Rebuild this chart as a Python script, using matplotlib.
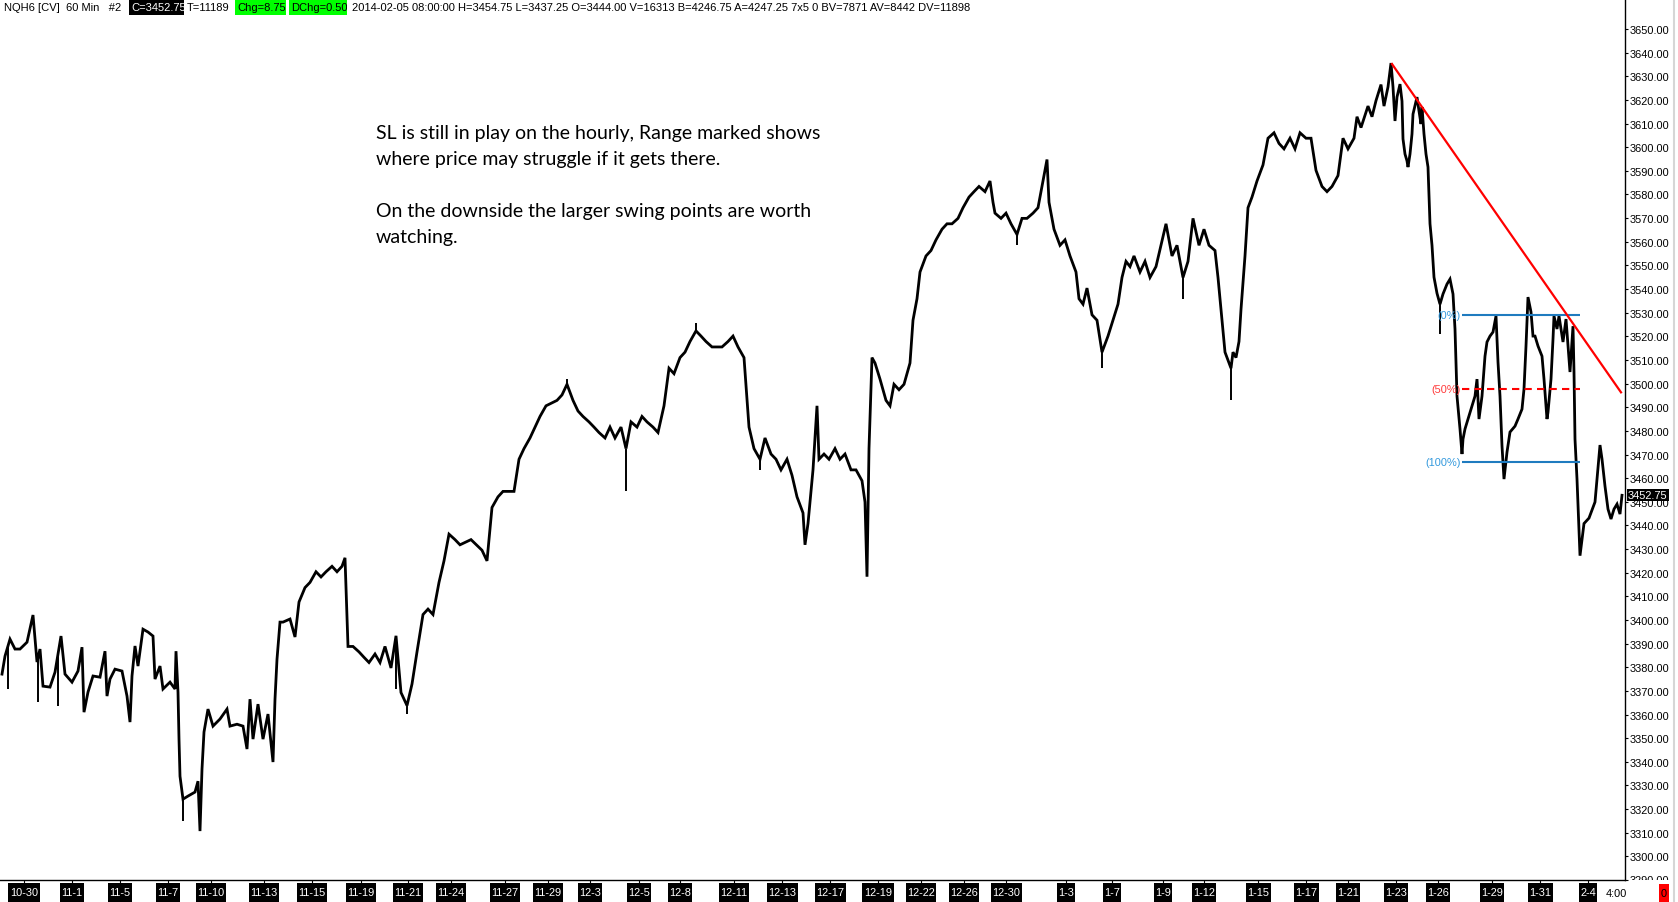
import numpy as np
import matplotlib
matplotlib.use("Agg")
import matplotlib.pyplot as plt
from matplotlib import font_manager
from matplotlib.patches import Rectangle
from matplotlib.lines import Line2D
from matplotlib.transforms import Bbox, blended_transform_factory

_names = {f.name for f in font_manager.fontManager.ttflist}
if "Liberation Sans Narrow" in _names:
    UI_FONT, UI_SCALE = "Liberation Sans Narrow", 1.0
else:
    UI_FONT, UI_SCALE = "Liberation Sans", 0.84
plt.rcParams['font.family'] = [UI_FONT, 'DejaVu Sans']

# ---------------- data ----------------
# hourly bar index (about one bar per position) and traced price path
bar_idx = [2, 5, 10, 15, 20, 27, 33, 37, 40, 43, 50, 55, 61, 65, 72, 78, 82, 84, 88, 93, 100, 105, 107, 110, 115, 122,
           127, 130, 132, 135, 138, 143, 148, 153, 155, 160, 163, 170, 175, 176, 178, 179, 180, 183, 188, 195, 198, 200,
           202, 204, 208, 213, 220, 227, 230, 237, 243, 247, 250, 253, 258, 263, 268, 273, 275, 277, 280, 283, 290, 295,
           299, 305, 310, 316, 321, 326, 332, 337, 342, 345, 348, 353, 359, 364, 369, 375, 380, 385, 391, 396, 401, 407,
           412, 417, 423, 428, 433, 439, 444, 449, 455, 460, 471, 482, 487, 492, 498, 503, 514, 519, 524, 530, 535, 540,
           546, 557, 562, 567, 573, 578, 583, 589, 594, 599, 605, 610, 615, 621, 626, 631, 637, 642, 647, 653, 658, 664,
           669, 674, 680, 685, 690, 696, 701, 706, 712, 717, 722, 728, 733, 738, 744, 749, 754, 760, 765, 771, 776, 781,
           787, 792, 797, 803, 805, 808, 813, 817, 819, 824, 829, 835, 840, 845, 851, 856, 862, 865, 867, 869, 872, 875,
           880, 886, 890, 894, 899, 904, 910, 913, 917, 920, 926, 931, 936, 942, 947, 952, 958, 963, 969, 974, 979, 985,
           990, 993, 995, 1001, 1006, 1011, 1017, 1022, 1027, 1033, 1038, 1043, 1047, 1049, 1054, 1060, 1065, 1070, 1076,
           1079, 1083, 1087, 1092, 1097, 1102, 1108, 1113, 1118, 1122, 1126, 1130, 1134, 1140, 1145, 1150, 1156, 1161,
           1166, 1172, 1177, 1183, 1188, 1193, 1199, 1204, 1209, 1215, 1218, 1222, 1225, 1229, 1231, 1233, 1236, 1239,
           1241, 1245, 1248, 1252, 1257, 1263, 1268, 1274, 1279, 1284, 1290, 1295, 1300, 1306, 1311, 1316, 1322, 1327,
           1332, 1338, 1343, 1348, 1354, 1357, 1361, 1368, 1372, 1376, 1381, 1384, 1388, 1391, 1393, 1395, 1397, 1400,
           1402, 1403, 1405, 1407, 1408, 1410, 1412, 1413, 1417, 1419, 1421, 1422, 1424, 1426, 1428, 1430, 1432, 1434,
           1437, 1440, 1443, 1447, 1450, 1453, 1455, 1457, 1460, 1462, 1463, 1465, 1468, 1472, 1475, 1477, 1479, 1482,
           1485, 1487, 1490, 1493, 1496, 1498, 1500, 1502, 1504, 1507, 1510, 1515, 1518, 1522, 1524, 1526, 1528, 1531,
           1533, 1535, 1538, 1542, 1544, 1547, 1548, 1551, 1553, 1554, 1557, 1559, 1563, 1566, 1568, 1570, 1573, 1574,
           1575, 1577, 1580, 1584, 1589, 1595, 1600, 1602, 1605, 1608, 1611, 1614, 1617, 1620, 1622]
price = [3377.1, 3384.7, 3391.9, 3387.7, 3387.7, 3390.6, 3402.1, 3382.2, 3387.7, 3372.0, 3371.6, 3377.9, 3393.2,
         3377.1, 3373.7, 3378.4, 3388.5, 3361.0, 3369.5, 3376.3, 3375.8, 3386.8, 3367.8, 3375.0, 3379.2, 3378.4,
         3367.8, 3356.8, 3376.3, 3389.0, 3380.5, 3396.1, 3394.9, 3393.2, 3375.0, 3380.5, 3370.8, 3373.7, 3370.8,
         3386.8, 3369.5, 3349.6, 3333.9, 3324.2, 3325.5, 3327.2, 3331.8, 3310.7, 3336.9, 3352.6, 3362.3, 3355.1,
         3358.1, 3362.3, 3355.1, 3355.9, 3355.1, 3345.4, 3366.5, 3349.6, 3364.4, 3349.6, 3360.2, 3339.9, 3366.5,
         3383.4, 3399.1, 3399.1, 3400.4, 3392.8, 3407.6, 3413.7, 3415.9, 3420.4, 3418.2, 3420.4, 3422.7, 3420.4,
         3422.7, 3426.3, 3388.8, 3388.8, 3386.5, 3384.2, 3382.0, 3385.6, 3382.0, 3388.8, 3379.7, 3393.3, 3369.3,
         3363.8, 3372.9, 3386.5, 3402.3, 3404.6, 3402.3, 3415.9, 3425.0, 3436.3, 3434.0, 3431.8, 3434.0, 3429.5,
         3425.0, 3447.6, 3452.1, 3454.4, 3454.4, 3468.0, 3472.5, 3477.0, 3481.6, 3486.1, 3490.6, 3492.9, 3495.2,
         3499.7, 3492.9, 3488.4, 3486.1, 3483.8, 3481.6, 3479.3, 3477.0, 3481.6, 3477.0, 3481.6, 3472.5, 3483.8,
         3481.6, 3486.1, 3483.8, 3481.6, 3479.3, 3490.6, 3506.5, 3504.2, 3511.0, 3513.3, 3517.8, 3522.3, 3520.1,
         3517.8, 3515.5, 3515.5, 3515.5, 3517.8, 3520.1, 3515.5, 3511.0, 3481.6, 3472.5, 3468.0, 3477.0, 3470.2,
         3468.0, 3463.5, 3468.0, 3461.2, 3452.1, 3445.3, 3431.8, 3440.8, 3463.5, 3490.6, 3468.0, 3470.2, 3468.0,
         3472.5, 3468.0, 3470.2, 3463.5, 3463.5, 3458.9, 3449.9, 3418.3, 3472.5, 3511.0, 3508.7, 3501.9, 3492.9,
         3490.6, 3499.7, 3497.4, 3499.7, 3508.7, 3526.8, 3535.9, 3547.2, 3554.0, 3556.3, 3560.8, 3565.3, 3567.6,
         3567.6, 3569.9, 3574.4, 3578.9, 3581.2, 3583.4, 3581.2, 3585.7, 3576.7, 3572.1, 3569.9, 3572.1, 3567.6,
         3563.1, 3569.9, 3569.9, 3572.1, 3574.4, 3585.7, 3594.8, 3576.7, 3565.3, 3558.5, 3560.8, 3554.0, 3547.2,
         3535.9, 3533.6, 3540.4, 3529.1, 3526.8, 3513.3, 3520.1, 3526.8, 3533.6, 3544.9, 3551.7, 3549.5, 3554.0,
         3547.2, 3551.7, 3544.9, 3549.5, 3558.5, 3567.6, 3554.0, 3558.5, 3544.9, 3551.7, 3569.9, 3558.5, 3565.3,
         3558.5, 3556.3, 3544.9, 3526.8, 3513.3, 3508.7, 3506.5, 3513.3, 3511.0, 3517.8, 3531.4, 3554.0, 3574.4,
         3578.9, 3585.7, 3592.5, 3603.8, 3606.1, 3601.6, 3599.3, 3603.8, 3599.3, 3606.1, 3603.8, 3603.8, 3590.2,
         3583.4, 3581.2, 3583.4, 3588.0, 3603.8, 3599.3, 3603.8, 3612.9, 3608.3, 3617.4, 3612.9, 3619.7, 3626.5,
         3617.4, 3625.5, 3635.6, 3625.5, 3611.1, 3621.2, 3626.7, 3619.5, 3603.5, 3597.1, 3594.2, 3591.6, 3597.1,
         3605.6, 3614.0, 3621.2, 3615.3, 3609.8, 3617.0, 3605.6, 3597.1, 3591.6, 3567.6, 3558.5, 3545.0, 3538.2,
         3533.6, 3537.9, 3542.1, 3544.2, 3537.9, 3523.1, 3494.7, 3480.8, 3470.2, 3476.5, 3480.8, 3485.0, 3490.5,
         3494.7, 3501.9, 3485.0, 3494.7, 3511.6, 3517.6, 3520.1, 3521.8, 3528.6, 3509.1, 3494.7, 3473.6, 3459.6,
         3471.0, 3479.5, 3482.0, 3485.0, 3489.2, 3497.7, 3515.9, 3536.6, 3530.3, 3520.1, 3520.1, 3515.9, 3511.6,
         3501.9, 3485.0, 3487.9, 3501.9, 3518.8, 3528.6, 3523.1, 3528.6, 3517.6, 3527.3, 3515.9, 3504.9, 3524.3,
         3504.9, 3476.5, 3459.6, 3427.2, 3440.8, 3443.1, 3449.9, 3474.0, 3468.1, 3456.6, 3446.9, 3442.7, 3446.9,
         3449.0, 3444.8, 3452.75]

# single-bar spikes (bar, extreme price)
wick_bar = [8, 38, 58, 183, 396, 407, 567, 626, 696, 760, 1017, 1102, 1183, 1231, 1440]
wick_extreme = [3370.8, 3365.2, 3363.6, 3314.9, 3370.6, 3360.2, 3502.0, 3454.4, 3525.5, 3463.5,
                3558.5, 3506.5, 3535.9, 3492.9, 3521.0]

date_pos = [24, 72, 120, 168, 211, 264, 312, 361, 408, 451, 505, 548, 590, 639, 680, 734, 782, 830, 878,
            921, 964, 1006, 1066, 1112, 1163, 1204, 1258, 1306, 1348, 1396, 1438, 1492, 1540, 1588]
date_labels = ["10-30", "11-1", "11-5", "11-7", "11-10", "11-13", "11-15", "11-19", "11-21", "11-24",
               "11-27", "11-29", "12-3", "12-5", "12-8", "12-11", "12-13", "12-17", "12-19", "12-22",
               "12-26", "12-30", "1-3", "1-7", "1-9", "1-12", "1-15", "1-17", "1-21", "1-23", "1-26",
               "1-29", "1-31", "2-4"]
time_label_pos = 1616
time_label = "4:00"

ytick_vals = list(range(3290, 3651, 10))
y_range = (3290.0, 3662.7)
bar_range = (0, 1625)

fib_bars = (1462, 1580)
fib_levels = [3529.1, 3497.9, 3466.7]
fib_names = ["(0%)", "(50%)", "(100%)"]
trend_bars = [1392, 1621]
trend_prices = [3635.2, 3496.3]
last_price = 3452.75

header_main = ("2014-02-05 08:00:00 H=3454.75 L=3437.25 O=3444.00 V=16313 B=4246.75 "
               "A=4247.25 7x5 0 BV=7871 AV=8442 DV=11898")
header_parts = [  # (text, left px, box colour, box left, box right, text colour)
    ("NQH6 [CV]  60 Min   #2", 4, None, 0, 0, "black"),
    ("C=3452.75", 131, "black", 129, 184, "white"),
    ("T=11189", 187, None, 0, 0, "black"),
    ("Chg=8.75", 237, "#00ff00", 235, 286, "black"),
    ("DChg=0.50", 291, "#00ff00", 289, 347, "black"),
    (header_main, 352, None, 0, 0, "black"),
]
note_lines = ["SL is still in play on the hourly, Range marked shows",
              "where price may struggle if it gets there.",
              "On the downside the larger swing points are worth",
              "watching."]
note_y_px = [134, 160, 212, 238]

# ---------------- figure ----------------
W, H = 1678, 903
fig = plt.figure(figsize=(W / 100, H / 100), dpi=100)
fig.patch.set_facecolor("white")
ax_bottom_px = 881
ax_right_px = 1625
ax = fig.add_axes([0, (H - ax_bottom_px) / H, ax_right_px / W, ax_bottom_px / H])
ax.set_xlim(*bar_range)
ax.set_ylim(*y_range)

ax.plot(bar_idx, price, color="black", lw=2.0, solid_joinstyle="miter", zorder=3)
base = np.interp(wick_bar, bar_idx, price)
ax.vlines(wick_bar, np.minimum(base, wick_extreme), np.maximum(base, wick_extreme),
          color="black", lw=1.4, zorder=3)

# fibonacci range
fib_colors = ["#1f7bbf", "#ff0000", "#1f7bbf"]
fib_text_colors = ["#3399dd", "#ff3b3b", "#3399dd"]
for lvl, name, c, tc in zip(fib_levels, fib_names, fib_colors, fib_text_colors):
    ls = (0, (3.5, 2.5)) if name == "(50%)" else "-"
    ax.hlines(lvl, fib_bars[0], fib_bars[1], color=c, lw=1.5, linestyles=[ls], zorder=4)
    ax.text(fib_bars[0] - 1.5, lvl, name, ha="right", va="center", color=tc,
            fontsize=9.4 * UI_SCALE, zorder=5)

ax.plot(trend_bars, trend_prices, color="red", lw=1.6, zorder=5)

for s in ["top", "left"]:
    ax.spines[s].set_visible(False)
for s in ["right", "bottom"]:
    ax.spines[s].set_color("black")
    ax.spines[s].set_linewidth(1.0)

TICK_FS = 9.4 * UI_SCALE
ax.yaxis.tick_right()
ax.set_yticks(ytick_vals)
ax.set_yticklabels(["" if v == 3290 else f"{v:.2f}" for v in ytick_vals])
ax.tick_params(axis="y", direction="out", length=2.2, width=0.8, pad=1, labelsize=TICK_FS, colors="black")

ax.set_xticks(date_pos)
ax.set_xticklabels(date_labels)
ax.tick_params(axis="x", direction="out", length=2.2, width=0.8, pad=2.6, labelsize=TICK_FS,
               color="black", labelcolor="white")

trans_xa = blended_transform_factory(ax.transData, ax.transAxes)
ax.text(time_label_pos, -(894 - ax_bottom_px) / ax_bottom_px, time_label, transform=trans_xa,
        ha="center", va="center", fontsize=TICK_FS, color="black", clip_on=False)

trans_yr = blended_transform_factory(ax.transAxes, ax.transData)
ax.text(1 + 3 / ax_right_px, last_price, f"{last_price:.2f}", transform=trans_yr, ha="left", va="center",
        color="white", fontsize=TICK_FS, zorder=20, clip_on=False,
        bbox=dict(boxstyle="square,pad=0.08", fc="black", ec="none"))
t3290 = ax.text(1 + 4.4 / ax_right_px, 3290, "3290.00", transform=trans_yr, ha="left", va="center",
                fontsize=TICK_FS, color="black")
t3290.set_clip_box(Bbox([[1620, H - ax_bottom_px], [W, H]]))
t3290.set_clip_on(True)

# red box bottom right
fig.add_artist(Rectangle((1659 / W, 0), 10 / W, 18 / H, transform=fig.transFigure,
                         fc="red", ec="none", zorder=5))
fig.text(1664 / W, 9 / H, "0", ha="center", va="center", fontsize=TICK_FS, color="black", zorder=6)
# grey divider
fig.add_artist(Line2D([1674 / W, 1674 / W], [0, 1], transform=fig.transFigure, color="#d6d6d6", lw=1.5))

renderer = fig.canvas.get_renderer()

# header
hdr_texts = []
for txt, x0, bc, b0, b1, tc in header_parts:
    if bc is not None:
        fig.add_artist(Rectangle((b0 / W, 1 - 16 / H), (b1 - b0) / W, 16 / H, transform=fig.transFigure,
                                 fc=bc, ec="none", zorder=5))
    t = fig.text(x0 / W, 1 - 8 / H, txt, ha="left", va="center", fontsize=9, color=tc, zorder=6)
    if bc is not None:
        t.set_clip_box(Bbox([[b0, H - 16], [b1, H]]))
        t.set_clip_on(True)
    hdr_texts.append(t)
w_main = hdr_texts[-1].get_window_extent(renderer).width
fs_hdr = 9 * 623 / w_main
for t in hdr_texts:
    t.set_fontsize(fs_hdr)

# note
note_texts = []
for line, ypx in zip(note_lines, note_y_px):
    note_texts.append(fig.text(376 / W, 1 - ypx / H, line, ha="left", va="center", fontsize=14,
                               family="Lato", color="black", zorder=6))
w_note = note_texts[0].get_window_extent(renderer).width
fs_note = 14 * 446 / w_note
for t in note_texts:
    t.set_fontsize(fs_note)

# black boxes behind the date labels, running to the bottom edge
fig.canvas.draw()
for lbl in ax.get_xticklabels():
    if not lbl.get_visible() or not lbl.get_text():
        continue
    bb = lbl.get_window_extent(renderer)
    fig.add_artist(Rectangle(((bb.x0 - 1.5) / W, 0), (bb.width + 3) / W, 19 / H,
                             transform=fig.transFigure, fc="black", ec="none", zorder=-1))

fig.savefig("out.png", dpi=100)
